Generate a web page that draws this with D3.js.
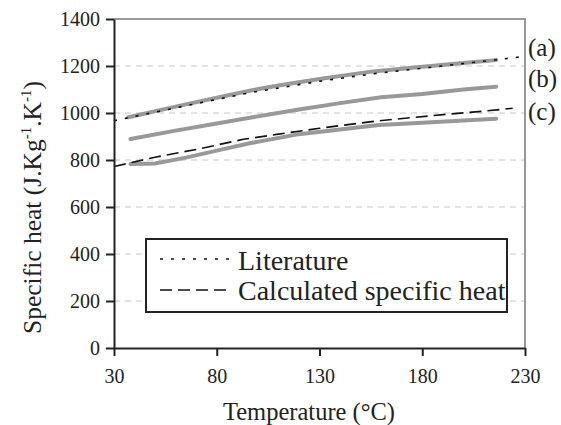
<!DOCTYPE html>
<html>
<head>
<meta charset="utf-8">
<script src="https://cdn.jsdelivr.net/npm/d3@7"></script>
<style>
  body { margin: 0; background: #fff; }
  svg text { font-family: "Liberation Serif", "Times New Roman", serif !important; fill: #222; }
</style>
</head>
<body>
<svg id="chart"></svg>
<script>
// measured curves (a), (b), (c) - grey thick lines
const seriesA = [[37, 982], [60, 1027], [80, 1065], [96, 1095], [110, 1117], [130, 1145], [155, 1176], [180, 1197], [200, 1213], [216, 1225]];
const seriesB = [[38, 889], [60, 925], [80, 955], [96, 980], [120, 1015], [140, 1042], [160, 1067], [180, 1081], [200, 1100], [216, 1112]];
const seriesC = [[38, 783], [50, 785], [65, 810], [80, 840], [96, 871], [120, 910], [140, 930], [159, 949], [180, 959], [200, 968], [216, 976]];
// literature (dotted) and calculated (dashed)
const literature = [[30, 967], [60, 1022], [96, 1086], [130, 1135], [158, 1169], [190, 1200], [229, 1240]];
const calculated = [[30, 772], [50, 812], [70, 845], [93, 888], [110, 910], [130, 935], [159, 967], [190, 993], [210, 1008], [224, 1020]];

const curveLabels = ["(a)", "(b)", "(c)"];
const curveLabelValues = [1274, 1142, 998];
const xTicks = [30, 80, 130, 180, 230];
const yTicks = [0, 200, 400, 600, 800, 1000, 1200, 1400];
const legendNames = ["Literature", "Calculated specific heat"];

const width = 561, height = 425;
const margin = {top: 19, right: 36, bottom: 77, left: 114};
const innerW = width - margin.left - margin.right;
const innerH = height - margin.top - margin.bottom;

const svg = d3.select("#chart").attr("width", width).attr("height", height);
const chart = svg.append("g").attr("transform", `translate(${margin.left},${margin.top})`);

const x = d3.scaleLinear().domain([30, 230]).range([0, innerW]);
const y = d3.scaleLinear().domain([0, 1400]).range([innerH, 0]);

// grid lines
chart.append("g").selectAll("line")
  .data(yTicks.filter(d => d > 0 && d < 1400))
  .enter().append("line")
  .attr("x1", 0).attr("x2", innerW)
  .attr("y1", d => y(d)).attr("y2", d => y(d))
  .attr("stroke", "#c8c8c8").attr("stroke-width", 1)
  .attr("stroke-dasharray", "6,5");

// grey frame (top & right)
chart.append("path")
  .attr("d", `M0,${y(1400)}H${x(230)}V${y(0)}`)
  .attr("fill", "none").attr("stroke", "#999").attr("stroke-width", 2);

const line = d3.line().x(d => x(d[0])).y(d => y(d[1]));

[seriesA, seriesB, seriesC].forEach(s => {
  chart.append("path")
    .attr("d", line(s))
    .attr("fill", "none")
    .attr("stroke", "#999")
    .attr("stroke-width", 4)
    .attr("stroke-linecap", "round");
});

chart.append("path")
  .attr("d", line(literature))
  .attr("fill", "none").attr("stroke", "#111")
  .attr("stroke-width", 1.6).attr("stroke-dasharray", "3,8");

chart.append("path")
  .attr("d", line(calculated))
  .attr("fill", "none").attr("stroke", "#111")
  .attr("stroke-width", 1.6).attr("stroke-dasharray", "12,6");

// axes
const xAxis = d3.axisBottom(x).tickValues(xTicks).tickFormat(d3.format("d"))
  .tickSize(8).tickPadding(13).tickSizeOuter(0);
const yAxis = d3.axisLeft(y).tickValues(yTicks).tickFormat(d3.format("d"))
  .tickSize(8).tickPadding(6).tickSizeOuter(0);

const gx = chart.append("g").attr("transform", `translate(0,${innerH})`).call(xAxis);
const gy = chart.append("g").call(yAxis);
[gx, gy].forEach(g => {
  g.attr("font-family", null).attr("font-size", null);
  g.select(".domain").attr("stroke", "#222").attr("stroke-width", 2);
  g.selectAll(".tick line").attr("stroke", "#222").attr("stroke-width", 2);
  g.selectAll(".tick text").style("font-size", "20px").attr("fill", "#222");
});

// curve labels
svg.append("g").selectAll("text")
  .data(curveLabels)
  .enter().append("text")
  .attr("x", margin.left + innerW + 3)
  .attr("y", (d, i) => margin.top + y(curveLabelValues[i]) + 7)
  .style("font-size", "25px")
  .text(d => d);

// axis titles
svg.append("text")
  .attr("x", 309)
  .attr("y", 420)
  .attr("text-anchor", "middle")
  .style("font-size", "24.5px")
  .text("Temperature (°C)");

const yTitle = svg.append("text")
  .attr("transform", "translate(41,334) rotate(-90)")
  .attr("text-anchor", "start")
  .style("font-size", "25.5px");
yTitle.append("tspan").text("Specific heat (J.Kg");
yTitle.append("tspan").style("font-size", "15px").attr("dy", -10).text("-1");
yTitle.append("tspan").attr("dy", 10).text(".K");
yTitle.append("tspan").style("font-size", "15px").attr("dy", -10).text("-1");
yTitle.append("tspan").attr("dy", 10).text(")");

// legend
const legend = svg.append("g").attr("transform", "translate(146,239)");
legend.append("rect")
  .attr("width", 361).attr("height", 73)
  .attr("fill", "#fff").attr("stroke", "#222").attr("stroke-width", 2);
const dashes = ["3,8", "12,6"];
legendNames.forEach((name, i) => {
  legend.append("line")
    .attr("x1", 14).attr("x2", 84)
    .attr("y1", 20 + i * 31).attr("y2", 20 + i * 31)
    .attr("stroke", "#111").attr("stroke-width", 1.6)
    .attr("stroke-dasharray", dashes[i]);
  legend.append("text")
    .attr("x", 92).attr("y", 31 + i * 30)
    .style("font-size", "28px")
    .text(name);
});
</script>
</body>
</html>
